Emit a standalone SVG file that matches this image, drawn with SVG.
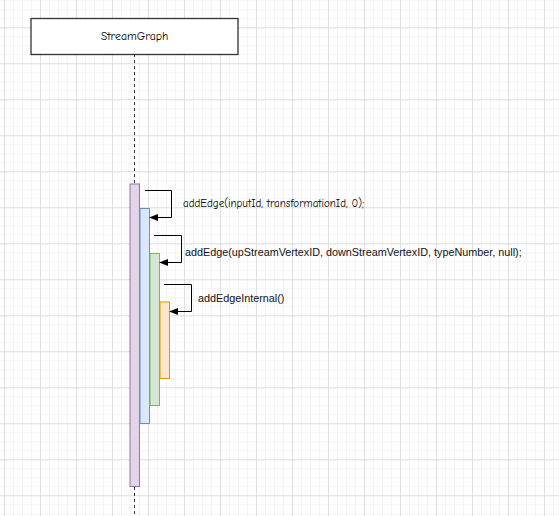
<svg xmlns="http://www.w3.org/2000/svg" width="559" height="516" viewBox="0 0 559 516">
<defs>
<pattern id="minor" x="4" y="0.3" width="9" height="9" patternUnits="userSpaceOnUse">
<path d="M0 0.5H9M0.5 0V9" fill="none" stroke="#f4f4f4" stroke-width="1"/>
</pattern>
<pattern id="major" x="4" y="-8.7" width="36" height="36" patternUnits="userSpaceOnUse">
<path d="M0 0.5H36M0.5 0V36" fill="none" stroke="#e0e0e0" stroke-width="1"/>
</pattern>
<marker id="arr" viewBox="0 0 10 10" refX="9" refY="5" markerWidth="9" markerHeight="9" markerUnits="userSpaceOnUse" orient="auto">
<path d="M0 1L10 5L0 9Z" fill="#000"/>
</marker>
</defs>
<style>
.life{stroke:#333;stroke-width:1;stroke-dasharray:3 3;fill:none}
.call{stroke:#000;stroke-width:1;fill:none;marker-end:url(#arr)}
.comic{font-family:"Comic Sans MS","Comic Neue","Liberation Sans",sans-serif;font-size:11px;fill:#000}
.helv{font-family:"Liberation Sans",Arial,Helvetica,sans-serif;font-size:10.8px;fill:#111}
</style>
<rect width="559" height="516" fill="#fff"/>
<rect width="559" height="516" fill="url(#minor)"/>
<rect width="559" height="516" fill="url(#major)"/>
<g id="lifeline">
<line class="life" x1="134.5" y1="54" x2="134.5" y2="184"/>
<line class="life" x1="134.5" y1="487" x2="134.5" y2="516"/>
</g>
<g id="StreamGraph">
<rect x="31" y="18.5" width="207" height="36" fill="#fff" stroke="#333" stroke-width="1.3"/>
<text class="comic" x="134.5" y="40" text-anchor="middle" style="font-size:11.8px">StreamGraph</text>
</g>
<g id="act1"><rect x="130" y="184" width="9.5" height="302.5" fill="#e1d5e7" stroke="#9673a6"/></g>
<g id="act2"><rect x="140" y="208.5" width="9.5" height="215" fill="#dae8fc" stroke="#6c8ebf"/></g>
<g id="act3"><rect x="150" y="253.5" width="9.5" height="152" fill="#d5e8d4" stroke="#82b366"/></g>
<g id="act4"><rect x="160" y="302" width="9.5" height="76.5" fill="#ffe6cc" stroke="#d79b00"/></g>
<g id="connectors">
<path class="call" d="M145 190.5H171.5V217.5H150"/>
<path class="call" d="M154 235.5H181.5V262.5H160"/>
<path class="call" d="M164 284.5H191.5V311.5H170"/>
</g>
<g id="labels">
<text class="comic" x="183" y="207">addEdge(inputId, transformationId, 0);</text>
<text class="helv" x="185" y="256">addEdge(upStreamVertexID, downStreamVertexID, typeNumber, null);</text>
<text class="helv" x="198" y="302">addEdgeInternal()</text>
</g>
</svg>
